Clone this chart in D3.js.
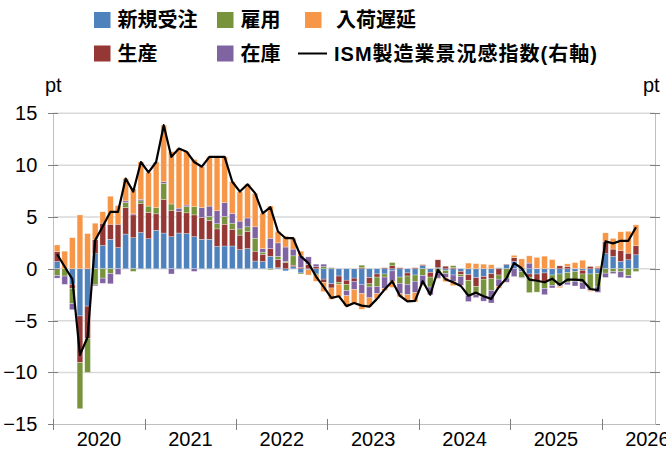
<!DOCTYPE html>
<html lang="ja">
<head>
  <meta charset="UTF-8" />
  <title>ISM製造業景況感指数</title>
  <style>
    body { margin: 0; background: #fff; }
    svg text { font-family: "Liberation Sans", Arial, "Noto Sans CJK JP", sans-serif; fill: #000; }
    .legend text { font-size: 20px; font-weight: bold; }
    .axis path, .axis line { shape-rendering: crispEdges; }
    .grid line { stroke: #d9d9d9; stroke-width: 1.5px; }
    .bar rect { stroke: #fff; stroke-width: 0.5px; stroke-opacity: 0.6; }
  </style>
  <script src="https://d3js.org/d3.v7.min.js"></script>
</head>
<body>
  <div id="chart"></div>
  <script type="text/javascript">
    // monthly data, Jan 2020 .. May 2026 (contribution to the index, pt)
    const months = d3.timeMonths(new Date(2020, 0, 1), new Date(2026, 5, 1));
    const axisMonths = d3.timeMonths(new Date(2020, 0, 1), new Date(2026, 7, 1));
    const years = ["2020", "2021", "2022", "2023", "2024", "2025", "2026"];

    const newOrders = [
      0.7, 0.0, -1.5, -4.55, -3.6, 1.45, 2.25, 2.85, 2.05, 3.35, 3.0, 3.5,
      2.9, 3.7, 3.45, 3.1, 3.45, 3.4, 3.1, 2.85, 2.85, 2.15, 2.2, 2.2,
      1.85, 1.95, 0.75, 0.7, 1.2, 0.1, -0.2, 0.2, -0.4, -0.1, -0.5, -1.0,
      -1.45, -0.7, -1.1, -0.9, -1.5, -0.85, -0.5, -0.5, -0.2, -0.8, -0.4, -0.6,
      0.3, -0.35, 0.1, -0.15, -0.6, -0.25, -0.55, -0.85, -0.75, -0.48, 0.1, 0.4,
      0.7, -0.25, -0.5, -0.5, -0.4, -0.6, -0.5, -0.35, -0.25, -0.15, -0.5, -0.45,
      1.45, 1.19, 0.71, 0.87, 1.35
    ];
    const production = [
      0.95, 0.0, -0.4, -4.5, -3.1, 1.35, 2.15, 1.45, 2.25, 2.55, 2.2, 2.8,
      2.55, 1.6, 3.25, 2.5, 2.1, 2.0, 2.1, 2.1, 1.8, 1.7, 2.1, 1.6,
      1.4, 1.65, 0.95, 0.7, 0.75, 0.8, 0.6, 0.15, 0.15, 0.4, 0.2, -0.3,
      -0.4, -0.6, -0.4, -0.3, 0.1, -0.6, -0.3, 0.1, 0.3, 0.1, -0.3, 0.1,
      0.1, -0.45, 0.77, 0.25, 0.1, -0.3, -0.58, -0.85, -0.25, -0.48, -0.6, 0.05,
      0.38, 0.1, -0.3, -0.75, -0.85, 0.05, 0.28, 0.22, 0.05, -0.35, 0.22, 0.1,
      1.15, 0.71, 1.06, 0.64, 0.87
    ];
    const employment = [
      -0.65, -0.7, -1.45, -4.45, -3.3, -1.55, -0.9, -0.45, 0, 0.5, -0.25, 0.25,
      0.6, 0.6, 1.55, 0.65, 0, 0.6, 0.8, 0, 0.4, 0.5, 0.75, 0.6,
      0.6, 0.45, 1.25, 0.2, -0.1, 0.3, 0.1, 0.9, -0.1, 0.05, -0.1, 0.2,
      0.1, -0.2, -0.6, 0.05, 0.25, -0.3, -0.9, -0.3, 0.3, -0.6, -0.8, -0.6,
      -0.65, -0.96, -0.4, -0.3, 0.2, -0.2, -1.45, -0.8, -1.65, -1.12, -0.4, -0.9,
      0.02, -0.6, -1.5, -1.0, -0.65, -1.0, -1.1, -0.95, -0.95, -0.8, -1.45, -1.3,
      -0.42, -0.26, -0.26, -0.67, -0.26
    ];
    const inventories = [
      -0.25, -0.8, -0.6, 0, 0, -0.1, -0.5, -1.0, -0.55, 0.15, 0.1, 0.15,
      0, 0, 0.15, -0.5, 0.3, 0.15, -0.25, 0.95, 1.0, 1.25, 1.35, 0.95,
      0.75, 0.85, 1.1, 0.35, 1.0, 1.3, 1.4, 0.65, 1.1, 0.7, 0.25, 0.25,
      0.05, 0.05, -0.5, -0.8, -0.9, -1.05, -0.7, -1.1, -1.0, -1.0, -1.0, -1.1,
      -0.85, -0.74, -0.5, -0.4, -0.6, -0.85, -0.58, -0.28, -0.47, -1.22, -0.7, -0.4,
      -0.75, -0.05, 0.55, 0.05, -0.6, -0.25, -0.1, -0.24, -0.46, -0.65, -0.15, -0.52,
      -0.42, -0.2, -0.58, -0.22, 0
    ];
    const deliveries = [
      0.65, 1.7, 3.0, 5.2, 3.4, 1.6, 1.1, 2.7, 1.8, 2.15, 2.4, 3.6,
      3.25, 4.4, 5.45, 5.05, 5.75, 5.15, 4.55, 3.95, 4.75, 5.2, 4.4, 3.05,
      2.85, 3.25, 3.24, 3.41, 3.1, 1.1, 1.05, 1.05, 0.45, -0.5, -0.6, -0.9,
      -1.1, -1.2, -1.0, -1.35, -1.5, -0.85, -0.5, -0.2, -0.6, -0.3, -0.65, -0.9,
      -0.12, 0, -0.07, -0.4, -0.42, -0.04, 0.55, 0.5, 0.45, 0.39, -0.17, -0.05,
      0.2, 0.86, 0.7, 1.05, 1.22, 0.84, -0.12, 0.26, 0.55, 0.83, -0.08, 0.15,
      0.87, 1.03, 1.8, 2.11, 2.02
    ];
    // ISM manufacturing PMI (right axis)
    const ismIndex = [
      51.4, 50.2, 49.0, 41.7, 43.4, 52.75, 54.1, 55.5, 55.5, 58.7, 57.45, 60.3,
      59.3, 60.3, 63.85, 60.8, 61.6, 61.3, 60.3, 59.85, 60.8, 60.8, 60.8, 58.4,
      57.45, 58.15, 57.3, 55.35, 55.95, 53.6, 52.95, 52.95, 51.2, 50.55, 49.25, 48.25,
      47.2, 47.35, 46.4, 46.7, 46.45, 46.35, 47.1, 48.0, 48.8, 47.4, 46.85, 46.9,
      48.8, 47.5, 49.9, 49.0, 48.7, 48.35, 47.4, 47.7, 47.35, 47.1, 48.25, 49.1,
      50.55, 50.05, 48.95, 48.85, 48.7, 49.05, 48.45, 48.95, 48.95, 48.9, 48.05, 47.95,
      52.65, 52.45, 52.7, 52.7, 54.0
    ];

    const leftTicks = [-15, -10, -5, 0, 5, 10, 15];
    const rightTicks = [35, 40, 45, 50, 55, 60, 65];

    // stacking order follows the series order of the original chart
    const series = [
      { key: "newOrders", name: "新規受注", color: "#4f81bd", values: newOrders },
      { key: "production", name: "生産", color: "#953735", values: production },
      { key: "employment", name: "雇用", color: "#77933c", values: employment },
      { key: "inventories", name: "在庫", color: "#8064a2", values: inventories },
      { key: "deliveries", name: "入荷遅延", color: "#f79646", values: deliveries }
    ];

    const width = 666, height = 450;
    const plot = { left: 53.3, right: 655, top: 113.3, bottom: 424.3 };

    const svg = d3.select("#chart").append("svg")
      .attr("width", width)
      .attr("height", height);

    const x = d3.scaleBand()
      .domain(axisMonths.map((d, i) => i))
      .range([plot.left, plot.right])
      .paddingInner(0.25)
      .paddingOuter(0.125);
    const xLin = d3.scaleLinear().domain([0, axisMonths.length]).range([plot.left, plot.right]);
    const y = d3.scaleLinear().domain([-15, 15]).range([plot.bottom, plot.top]);
    const yR = d3.scaleLinear().domain([35, 65]).range([plot.bottom, plot.top]);

    // grid
    svg.append("g").attr("class", "grid")
      .selectAll("line")
      .data(leftTicks.filter(t => t > -15))
      .enter().append("line")
      .attr("x1", plot.left).attr("x2", plot.right)
      .attr("y1", d => y(d)).attr("y2", d => y(d));

    // stacked bars
    const table = months.map((m, i) => {
      const row = { i: i };
      series.forEach(s => { row[s.key] = s.values[i]; });
      return row;
    });
    const stacked = d3.stack()
      .keys(series.map(s => s.key))
      .offset(d3.stackOffsetDiverging)(table);

    svg.append("g").attr("class", "bar")
      .selectAll("g")
      .data(stacked)
      .enter().append("g")
      .attr("fill", (d, k) => series[k].color)
      .selectAll("rect")
      .data(d => d)
      .enter().append("rect")
      .attr("x", d => x(d.data.i))
      .attr("width", x.bandwidth())
      .attr("y", d => y(Math.max(d[0], d[1])))
      .attr("height", d => Math.abs(y(d[0]) - y(d[1])));

    // axes
    const axisColor = "#bfbfbf", tickColor = "#7f7f7f";

    const gl = svg.append("g").attr("class", "axis")
      .attr("transform", `translate(${plot.left},0)`)
      .call(d3.axisLeft(y).tickValues(leftTicks).tickSize(0).tickPadding(16).tickFormat(d3.format("d")));
    gl.select(".domain").attr("stroke", axisColor);
    gl.selectAll(".tick line").attr("x1", -5).attr("x2", 5).attr("stroke", tickColor);
    gl.selectAll(".tick text").style("font-size", "20px");

    const gr = svg.append("g").attr("class", "axis")
      .attr("transform", `translate(${plot.right},0)`)
      .call(d3.axisRight(yR).tickValues(rightTicks).tickSize(0).tickFormat(""));
    gr.select(".domain").attr("stroke", axisColor);
    gr.selectAll(".tick line").attr("x1", -5).attr("x2", 5).attr("stroke", tickColor);

    const gb = svg.append("g").attr("class", "axis")
      .attr("transform", `translate(0,${plot.bottom})`)
      .call(d3.axisBottom(xLin).tickValues(d3.range(0, 73, 12)).tickSize(0).tickFormat(""));
    gb.select(".domain").attr("stroke", axisColor);
    gb.selectAll(".tick line").attr("y1", -5).attr("y2", 6).attr("stroke", tickColor);

    svg.append("g")
      .selectAll("text")
      .data(years)
      .enter().append("text")
      .attr("x", (d, k) => xLin(k * 12 + 6))
      .attr("y", 446)
      .attr("text-anchor", "middle")
      .style("font-size", "20px")
      .text(d => d);

    svg.append("text").attr("x", 45).attr("y", 92).style("font-size", "20px").text("pt");
    svg.append("text").attr("x", 643).attr("y", 92).style("font-size", "20px").text("pt");

    // ISM line
    svg.append("path")
      .datum(ismIndex)
      .attr("fill", "none")
      .attr("stroke", "#000")
      .attr("stroke-width", 2.2)
      .attr("stroke-linejoin", "round")
      .attr("d", d3.line()
        .x((d, i) => x(i) + x.bandwidth() / 2)
        .y(d => yR(d)));

    // legend
    const legendItems = [
      { name: "新規受注", color: "#4f81bd", x: 94, y: 20 },
      { name: "雇用", color: "#77933c", x: 217, y: 20 },
      { name: "入荷遅延", color: "#f79646", x: 305, y: 20, gap: 31 },
      { name: "生産", color: "#953735", x: 94, y: 53.5 },
      { name: "在庫", color: "#8064a2", x: 217, y: 53.5 }
    ];
    const legend = svg.append("g").attr("class", "legend");
    legendItems.forEach(it => {
      legend.append("rect")
        .attr("x", it.x).attr("y", it.y - 8)
        .attr("width", 16.5).attr("height", 16)
        .attr("fill", it.color);
      legend.append("text")
        .attr("x", it.x + (it.gap || 23.5)).attr("y", it.y)
        .attr("dominant-baseline", "central")
        .text(it.name);
    });
    legend.append("line")
      .attr("x1", 298).attr("x2", 327)
      .attr("y1", 53.5).attr("y2", 53.5)
      .attr("stroke", "#000").attr("stroke-width", 2);
    legend.append("text")
      .attr("x", 334).attr("y", 53.5)
      .attr("dominant-baseline", "central")
      .style("letter-spacing", "1px")
      .text("ISM製造業景況感指数(右軸)");
  </script>
</body>
</html>
